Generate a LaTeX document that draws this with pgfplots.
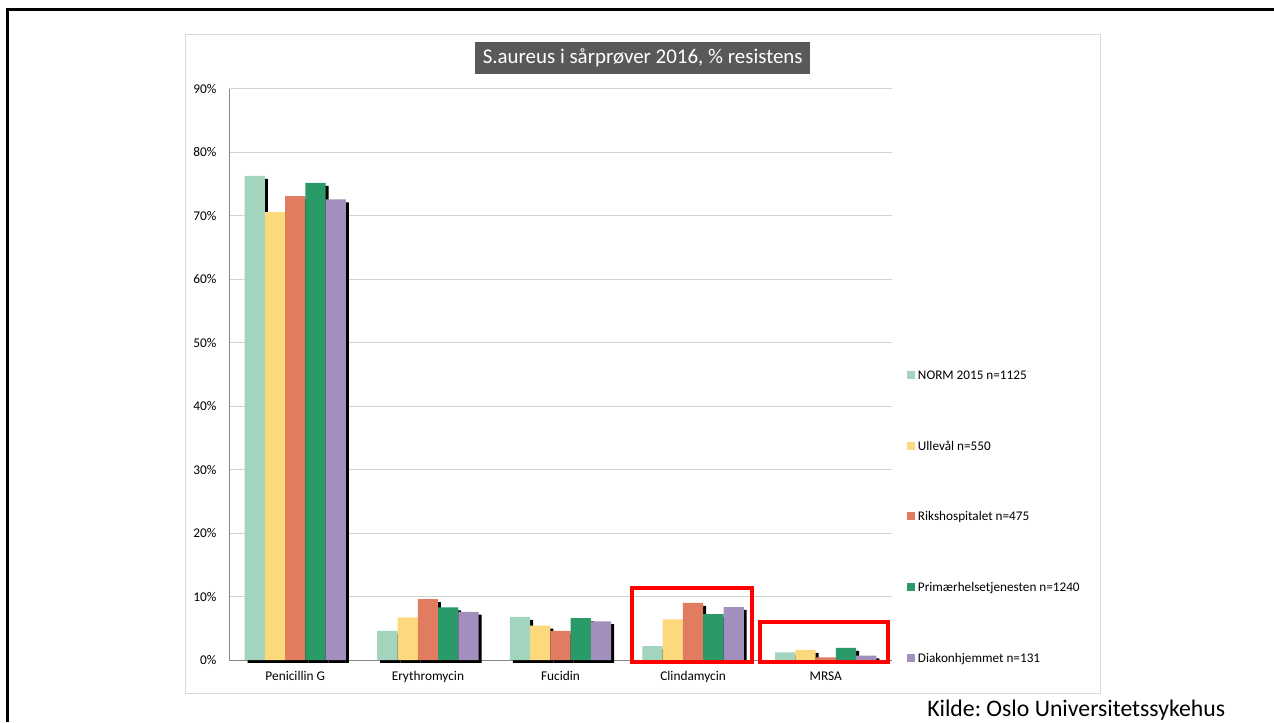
\documentclass[border=0pt]{standalone}
\usepackage{fontspec}
\setmainfont{Carlito}
\usepackage{pgfplots}
\usepackage{pgfplotstable}
\pgfplotsset{compat=1.18}
\frenchspacing
\definecolor{norm}{RGB}{163,212,189}
\definecolor{ulle}{RGB}{253,217,126}
\definecolor{riks}{RGB}{226,124,97}
\definecolor{prim}{RGB}{42,155,104}
\definecolor{diak}{RGB}{162,143,190}
\definecolor{gridgray}{RGB}{210,210,210}
\definecolor{axisgray}{RGB}{134,134,134}
\definecolor{titlegray}{RGB}{89,89,89}
\definecolor{framegray}{RGB}{217,217,217}
\pgfplotstableread{
x norm ulle riks prim diak
0 76.3 70.6 73.1 75.2 72.6
1 4.6 6.7 9.6 8.3 7.6
2 6.8 5.4 4.6 6.6 6.1
3 2.2 6.4 9.0 7.25 8.35
4 1.2 1.6 0.4 1.9 0.7
}\datatable
\begin{document}
\frenchspacing
\begin{tikzpicture}
\useasboundingbox (0,0) rectangle (955.5pt,541.5pt);
\fill[white] (0,0) rectangle (955.5pt,541.5pt);
% slide frame (top and left)
\draw[black, line width=2.4pt] (5.6pt,0pt) -- (5.6pt,534.2pt) -- (956pt,534.2pt);
% chart area
\draw[framegray, line width=0.75pt] (138.75pt,21.75pt) rectangle (825pt,515.25pt);
\begin{axis}[
  at={(171.75pt,46.5pt)}, anchor=south west,
  scale only axis, width=497.25pt, height=428.25pt,
  xmin=-0.5, xmax=4.5, ymin=0, ymax=90,
  clip=false,
  axis x line*=bottom, axis y line*=left,
  axis line style={-, draw=axisgray, line width=0.75pt},
  every outer x axis line/.append style={-},
  every outer y axis line/.append style={-},
  xtick={0,1,2,3,4},
  xticklabels={Penicillin G,Erythromycin,Fucidin,Clindamycin,MRSA},
  ytick={0,10,20,30,40,50,60,70,80,90},
  yticklabels={0\%,10\%,20\%,30\%,40\%,50\%,60\%,70\%,80\%,90\%},
  major tick length=0pt,
  ymajorgrids, grid style={draw=gridgray, line width=0.75pt},
  xticklabel style={font=\fontsize{10}{12}\selectfont, inner sep=0pt, anchor=north, yshift=-8.6pt},
  yticklabel style={font=\fontsize{10}{12}\selectfont, inner sep=0pt, anchor=east, xshift=-9.2pt},
  every axis title shift=0pt,
  title={S.aureus i sårprøver 2016, \% resistens},
  title style={at={(0.6240,1.054)}, anchor=center, fill=titlegray, text=white,
    font=\fontsize{15.7}{18}\selectfont, inner sep=0pt, minimum width=251pt, minimum height=23.5pt},
  legend style={at={(1.0222,0.5067)}, anchor=north west, draw=none, fill=none, inner sep=0pt,
    row sep=46.45pt, font=\fontsize{9.9}{11}\selectfont,
    nodes={inner sep=0pt, text height=6.5pt, text depth=0pt},
    /tikz/column sep=2.25pt},
  legend cell align=left,
  legend image code/.code={\fill[#1] (0pt,-3pt) rectangle (6pt,3pt);},
]
\addplot[ybar, bar width=15.2pt, bar shift=-30.4pt, fill=black, draw=none, forget plot, transform canvas={xshift=2.2pt,yshift=-2.2pt}] table[x=x,y=norm] {\datatable};
\addplot[ybar, bar width=15.2pt, bar shift=-30.4pt, fill=norm, draw=none] table[x=x,y=norm] {\datatable};
\addplot[ybar, bar width=15.2pt, bar shift=-15.2pt, fill=black, draw=none, forget plot, transform canvas={xshift=2.2pt,yshift=-2.2pt}] table[x=x,y=ulle] {\datatable};
\addplot[ybar, bar width=15.2pt, bar shift=-15.2pt, fill=ulle, draw=none] table[x=x,y=ulle] {\datatable};
\addplot[ybar, bar width=15.2pt, bar shift=0pt, fill=black, draw=none, forget plot, transform canvas={xshift=2.2pt,yshift=-2.2pt}] table[x=x,y=riks] {\datatable};
\addplot[ybar, bar width=15.2pt, bar shift=0pt, fill=riks, draw=none] table[x=x,y=riks] {\datatable};
\addplot[ybar, bar width=15.2pt, bar shift=15.2pt, fill=black, draw=none, forget plot, transform canvas={xshift=2.2pt,yshift=-2.2pt}] table[x=x,y=prim] {\datatable};
\addplot[ybar, bar width=15.2pt, bar shift=15.2pt, fill=prim, draw=none] table[x=x,y=prim] {\datatable};
\addplot[ybar, bar width=15.2pt, bar shift=30.4pt, fill=black, draw=none, forget plot, transform canvas={xshift=2.2pt,yshift=-2.2pt}] table[x=x,y=diak] {\datatable};
\addplot[ybar, bar width=15.2pt, bar shift=30.4pt, fill=diak, draw=none] table[x=x,y=diak] {\datatable};
\legend{NORM 2015 n=1125, Ullevål n=550, Rikshospitalet n=475, Primærhelsetjenesten n=1240, Diakonhjemmet n=131}
% highlight boxes
\draw[red, line width=3pt] (axis cs:2.539,-0.36) rectangle (axis cs:3.444,11.35);
\draw[red, line width=3pt] (axis cs:3.507,-0.36) rectangle (axis cs:4.470,5.99);
\end{axis}
\node[anchor=base west, inner sep=0pt, font=\fontsize{17.8}{20}\selectfont] at (695.25pt,3.98pt) {Kilde: Oslo Universitetssykehus};
\end{tikzpicture}
\end{document}
